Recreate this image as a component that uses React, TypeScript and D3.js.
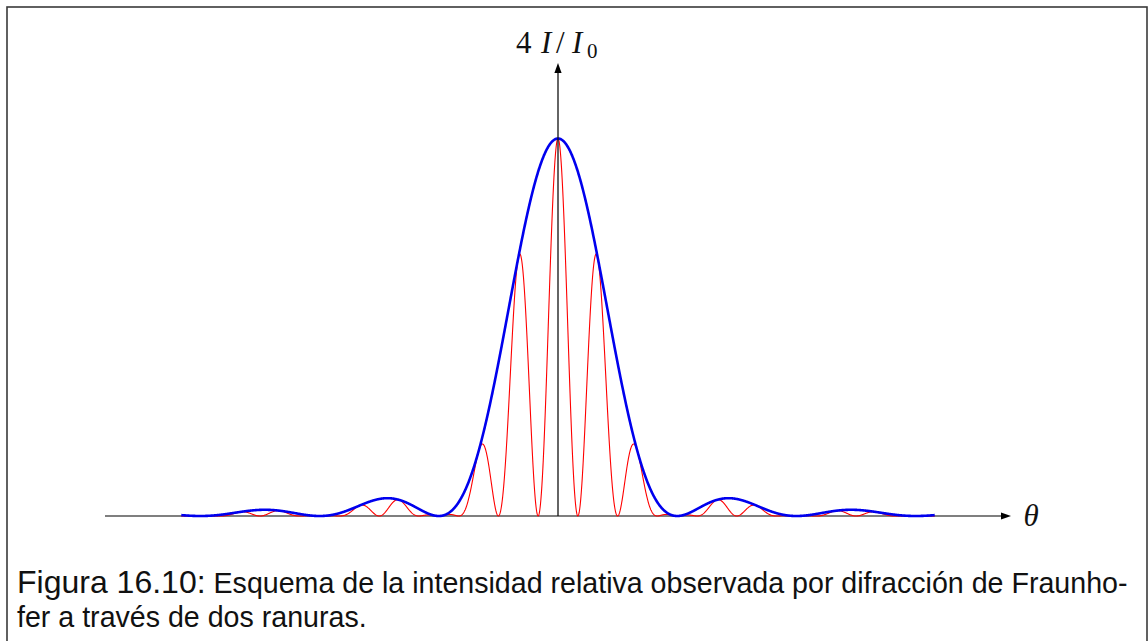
import React from "react";
import * as d3 from "d3";

// Chart parameters (double-slit Fraunhofer diffraction)
const axisXDomain = [-3.8, 3.8]; // horizontal axis span, in units of envelope zeros
const curveDomain = [-3.16, 3.16]; // span of the plotted curves
const axisYMax = 1.2; // top of vertical axis (arrow tip)
const slitRatio = 3; // d / a: fringe spacing relative to envelope zeros
const sampleCount = 2400;

const yLabelParts = ["4", "I", "/", "I", "0"];
const xLabel = "θ";
const captionHead = "Figura 16.10:";
const captionLine1 = " Esquema de la intensidad relativa observada por difracción de Fraunho-";
const captionLine2 = "fer a través de dos ranuras.";

const W = 1148;
const H = 641;

function envelope(u: number) {
  const b = Math.PI * u;
  if (Math.abs(b) < 1e-9) return 1;
  const s = Math.sin(b) / b;
  return s * s;
}
function intensity(u: number) {
  const c = Math.cos(slitRatio * Math.PI * u);
  return envelope(u) * c * c;
}

export default function App() {
  const x = d3.scaleLinear().domain(axisXDomain).range([105, 1011]);
  const y = d3.scaleLinear().domain([0, 1]).range([516, 138.5]);

  const us = d3.range(sampleCount + 1).map(
    (i) => curveDomain[0] + ((curveDomain[1] - curveDomain[0]) * i) / sampleCount
  );
  const envPath =
    d3
      .line<number>()
      .x((u) => x(u))
      .y((u) => y(envelope(u)))(us) || "";
  const redPath =
    d3
      .line<number>()
      .x((u) => x(u))
      .y((u) => y(intensity(u)))(us) || "";

  const x0 = x(0);
  const y0 = y(0);
  const xEnd = x(axisXDomain[1]);
  const yTop = y(axisYMax);

  const serif = "'Liberation Serif', 'DejaVu Serif', serif";
  const sans = "'Liberation Sans', Arial, Helvetica, sans-serif";

  return (
    <div style={{ position: "fixed", left: 0, top: 0, width: W, height: H, background: "#fff" }}>
      <svg width={W} height={H} style={{ display: "block" }}>
        <rect x={7} y={7} width={1140} height={700} fill="none" stroke="#3a3a3a" strokeWidth={1.6} />

        {/* x axis */}
        <line x1={x(axisXDomain[0])} y1={y0} x2={xEnd - 9} y2={y0} stroke="#555" strokeWidth={1.4} />
        <path d={`M${xEnd},${y0} L${xEnd - 10},${y0 - 3.6} L${xEnd - 10},${y0 + 3.6} Z`} fill="#000" />
        <text x={1031} y={526} fontFamily={serif} fontStyle="italic" fontSize={31} textAnchor="middle" fill="#111">
          {xLabel}
        </text>

        {/* curves */}
        <path d={redPath} fill="none" stroke="#ff0000" strokeWidth={1.1} />
        <path d={envPath} fill="none" stroke="#0000ee" strokeWidth={2.6} strokeLinejoin="round" />

        {/* y axis */}
        <line x1={x0} y1={y0} x2={x0} y2={yTop + 9} stroke="#111" strokeWidth={1.3} />
        <path d={`M${x0},${yTop} L${x0 - 3.6},${yTop + 10} L${x0 + 3.6},${yTop + 10} Z`} fill="#000" />

        <g fontFamily={serif} fontSize={31} fill="#111">
          <text x={516} y={53}>{yLabelParts[0]}</text>
          <text x={541} y={53} fontStyle="italic">{yLabelParts[1]}</text>
          <text x={556} y={53}>{yLabelParts[2]}</text>
          <text x={572} y={53} fontStyle="italic">{yLabelParts[3]}</text>
          <text x={587} y={58} fontSize={21}>{yLabelParts[4]}</text>
        </g>

        {/* caption */}
        <text x={17} y={593} fontFamily={sans} fill="#111">
          <tspan fontSize={32}>{captionHead}</tspan>
          <tspan fontSize={28.6}>{captionLine1}</tspan>
        </text>
        <text x={17} y={627} fontFamily={sans} fontSize={28.6} fill="#111">
          {captionLine2}
        </text>
      </svg>
    </div>
  );
}
